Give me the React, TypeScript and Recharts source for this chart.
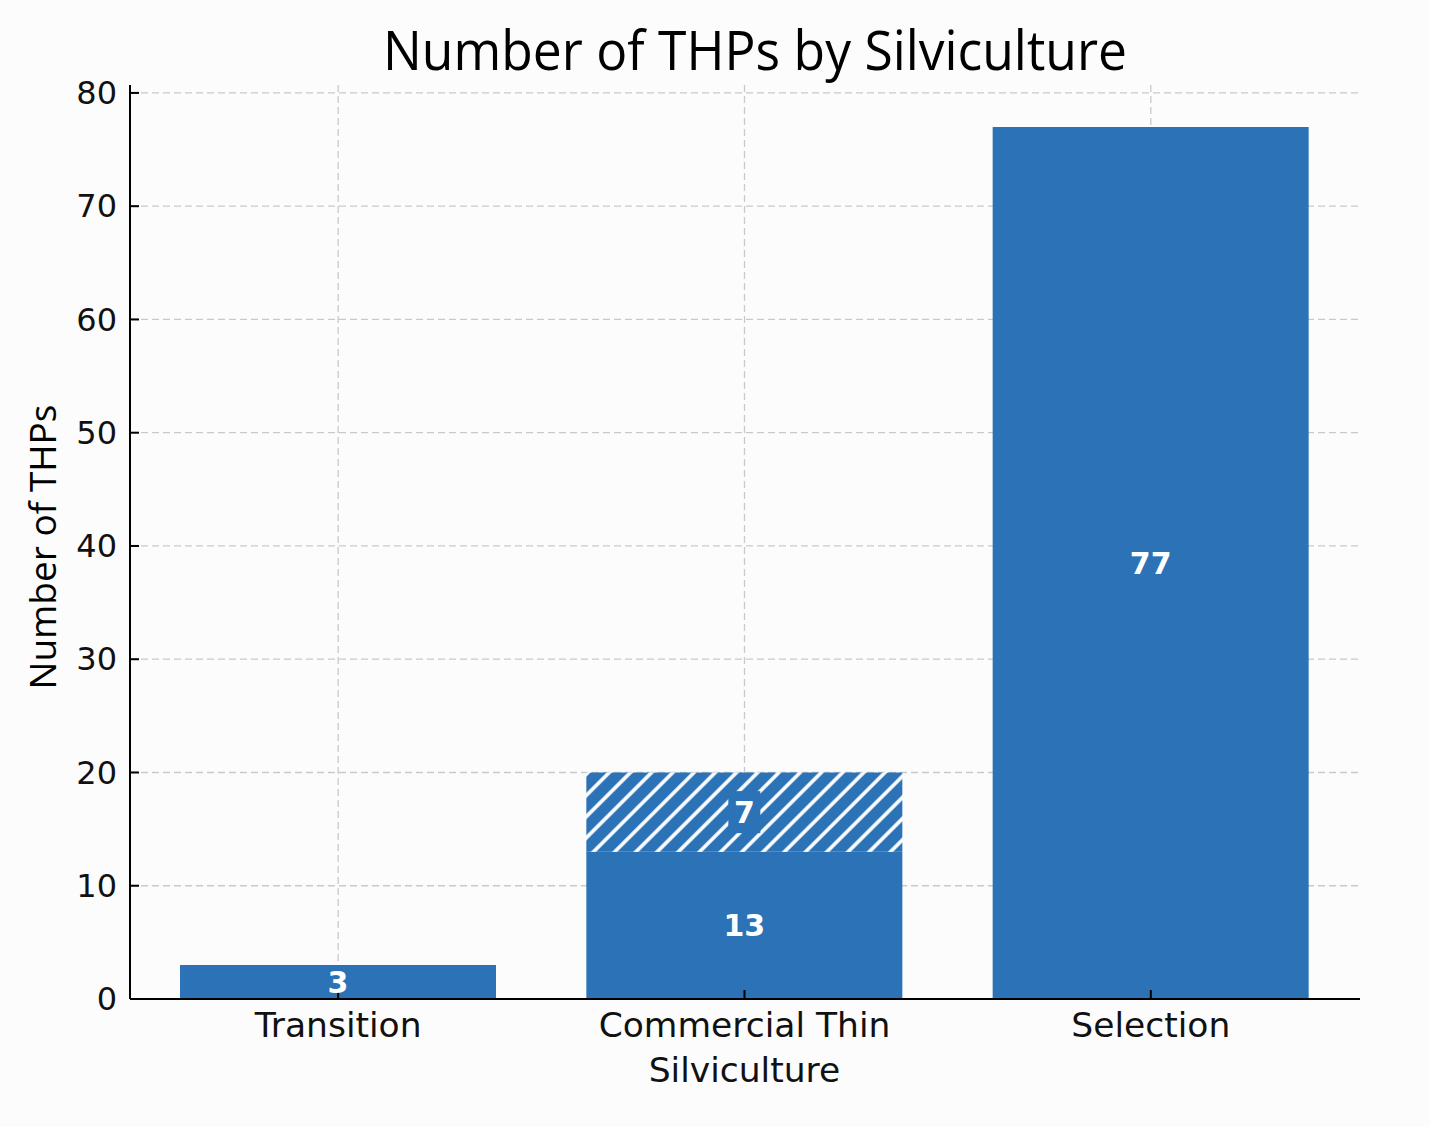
import { BarChart, Bar, XAxis, YAxis, CartesianGrid, LabelList } from 'recharts';

const CATEGORIES = ['Transition', 'Commercial Thin\nSilviculture', 'Selection'];
const BASE_COUNTS = [3, 13, 77];
const HATCHED_COUNTS = [0, 7, 0];
const Y_TICKS = [0, 10, 20, 30, 40, 50, 60, 70, 80];

const BLUE = '#2b72b6';
const TICK_FONT = '"DejaVu Sans", sans-serif';
const TITLE_FONT = '"Open Sans", "Noto Sans", sans-serif';

const data = CATEGORIES.map((name, i) => ({
  name,
  base: BASE_COUNTS[i],
  hatched: HATCHED_COUNTS[i],
}));

function YTick({ x, y, payload }: any) {
  return (
    <g>
      <line x1={x} y1={y} x2={x + 9} y2={y} stroke="#000" strokeWidth={2} />
      <text x={x - 13} y={y} dy="0.35em" textAnchor="end" fontFamily={TICK_FONT} fontSize={32} fill="#111">
        {payload.value}
      </text>
    </g>
  );
}

function XTick({ x, y, payload }: any) {
  const lines = String(payload.value).split('\n');
  return (
    <g>
      <line x1={x} y1={y - 9} x2={x} y2={y} stroke="#000" strokeWidth={2} />
      {lines.map((line, i) => (
        <text key={i} x={x} y={y + 38 + i * 45} textAnchor="middle" fontFamily={TICK_FONT} fontSize={34.5} fill="#111">
          {line}
        </text>
      ))}
    </g>
  );
}

function BaseLabel({ x, y, width, height, value }: any) {
  if (!value) return null;
  return (
    <text
      x={x + width / 2}
      y={y + height / 2}
      dy="0.36em"
      textAnchor="middle"
      fontFamily={TICK_FONT}
      fontWeight="bold"
      fontSize={30}
      fill="#fff"
    >
      {value}
    </text>
  );
}

function HatchLabel({ x, y, width, height, value }: any) {
  if (!value) return null;
  const cx = x + width / 2;
  const cy = y + height / 2;
  return (
    <g>
      <rect x={cx - 16} y={cy - 21} width={32} height={42} fill={BLUE} />
      <text x={cx} y={cy} dy="0.36em" textAnchor="middle" fontFamily={TICK_FONT} fontWeight="bold" fontSize={30} fill="#fff">
        {value}
      </text>
    </g>
  );
}

export default function App() {
  return (
    <div style={{ position: 'relative', width: 1430, height: 1127, background: '#fcfcfc' }}>
      <style>{'body { margin: 0; }'}</style>
      <BarChart
        width={1430}
        height={1127}
        data={data}
        margin={{ top: 85, right: 70, bottom: 28, left: 10 }}
      >
        <defs>
          <pattern id="hatch" width={15} height={15} patternUnits="userSpaceOnUse" patternTransform="rotate(45)">
            <rect width={15} height={15} fill={BLUE} />
            <line x1={2} y1={0} x2={2} y2={15} stroke="#fff" strokeWidth={3.6} />
          </pattern>
        </defs>
        <CartesianGrid stroke="#c9c9c9" strokeDasharray="7 4" strokeWidth={1.3} syncWithTicks />
        <XAxis
          dataKey="name"
          height={100}
          padding={{ left: 5, right: 6 }}
          axisLine={{ stroke: '#000', strokeWidth: 2 }}
          tickLine={false}
          tickSize={0}
          tickMargin={0}
          tick={<XTick />}
          interval={0}
        />
        <YAxis
          width={120}
          domain={[0, 80.7]}
          ticks={Y_TICKS}
          allowDataOverflow
          axisLine={{ stroke: '#000', strokeWidth: 2 }}
          tickLine={false}
          tickSize={0}
          tickMargin={0}
          tick={<YTick />}
        />
        <Bar dataKey="base" stackId="a" fill={BLUE} barSize={316} isAnimationActive={false}>
          <LabelList dataKey="base" content={<BaseLabel />} />
        </Bar>
        <Bar dataKey="hatched" stackId="a" fill="url(#hatch)" barSize={316} isAnimationActive={false}>
          <LabelList dataKey="hatched" content={<HatchLabel />} />
        </Bar>
      </BarChart>
      <svg width={1430} height={1127} style={{ position: 'absolute', left: 0, top: 0, pointerEvents: 'none' }}>
        <text
          x={755}
          y={70}
          textAnchor="middle"
          fontFamily={TITLE_FONT}
          fontSize={54}
          textLength={744}
          lengthAdjust="spacingAndGlyphs"
          fill="#000"
        >
          Number of THPs by Silviculture
        </text>
        <text
          transform="translate(56, 547) rotate(-90)"
          textAnchor="middle"
          fontFamily={TITLE_FONT}
          fontSize={37}
          textLength={285}
          lengthAdjust="spacingAndGlyphs"
          fill="#000"
        >
          Number of THPs
        </text>
      </svg>
    </div>
  );
}
